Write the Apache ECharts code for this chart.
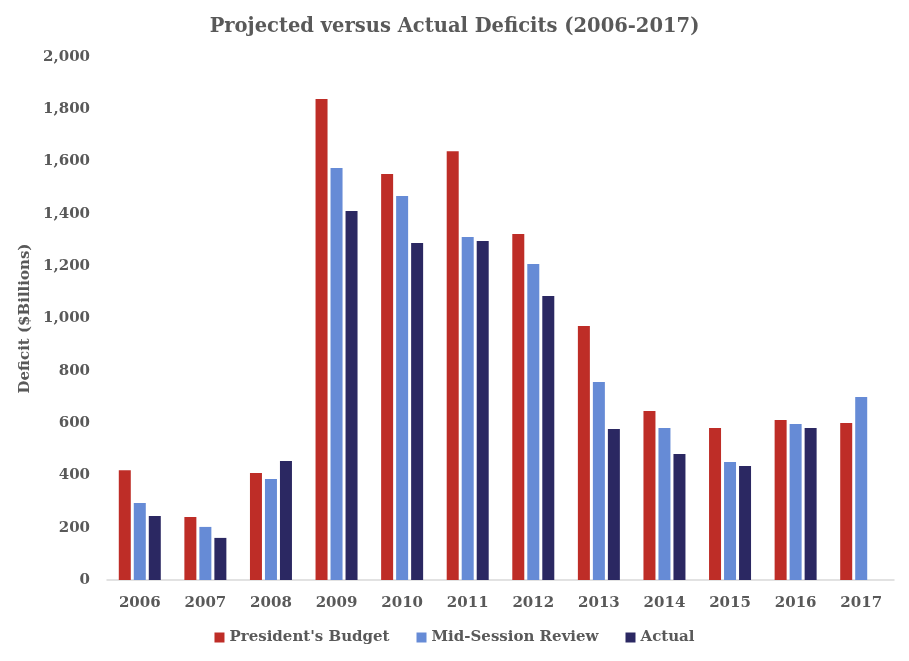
<!DOCTYPE html>
<html><head><meta charset="utf-8">
<script src="https://cdn.jsdelivr.net/npm/echarts@6/dist/echarts.min.js"></script>
<style>html,body{margin:0;padding:0;background:#fff}#c{width:909px;height:661px}</style>
</head><body><div id="c"></div>
<script>
const years = ['2006','2007','2008','2009','2010','2011','2012','2013','2014','2015','2016','2017'];
const presidentsBudget = [420, 241, 409, 1839, 1553, 1640, 1323, 971, 646, 581, 612, 600];
const midSessionReview = [294, 203, 386, 1576, 1468, 1312, 1208, 757, 581, 451, 597, 700];
const actual = [245, 161, 455, 1411, 1289, 1296, 1086, 577, 482, 436, 581, null];
const yTicks = [0, 200, 400, 600, 800, 1000, 1200, 1400, 1600, 1800, 2000];

const FONT = '"DejaVu Serif", serif';
const TXT = '#595959';
const chart = echarts.init(document.getElementById('c'));
const mk = (name, data, color) => ({
  name, type: 'bar', data, barWidth: 12, barGap: '25%',
  itemStyle: { color }
});
chart.setOption({
  animation: false,
  title: {
    text: 'Projected versus Actual Deficits (2006-2017)',
    left: 'center', top: 12,
    textStyle: { fontFamily: FONT, fontWeight: 'bold', fontSize: 19.5, color: TXT }
  },
  legend: {
    bottom: 11, left: 'center', itemWidth: 10, itemHeight: 10, itemGap: 27,
    icon: 'rect',
    textStyle: { fontFamily: FONT, fontWeight: 'bold', fontSize: 15, color: TXT }
  },
  grid: { left: 107, right: 15, top: 57, bottom: 81, containLabel: false },
  xAxis: {
    type: 'category', data: years,
    axisLine: { lineStyle: { color: '#d9d9d9', width: 1.5 } },
    axisTick: { show: false },
    axisLabel: { fontFamily: FONT, fontWeight: 'bold', fontSize: 15, color: TXT, margin: 16 }
  },
  yAxis: {
    type: 'value', min: yTicks[0], max: yTicks[yTicks.length - 1], interval: yTicks[1] - yTicks[0],
    name: 'Deficit ($Billions)', nameLocation: 'middle', nameGap: 66, nameRotate: 90,
    nameTextStyle: { fontFamily: FONT, fontWeight: 'bold', fontSize: 15, color: TXT },
    axisLine: { show: false }, axisTick: { show: false }, splitLine: { show: false },
    axisLabel: {
      fontFamily: FONT, fontWeight: 'bold', fontSize: 15, color: TXT, margin: 17,
      formatter: v => v.toLocaleString('en-US')
    }
  },
  series: [
    mk("President's Budget", presidentsBudget, '#BE2D27'),
    mk('Mid-Session Review', midSessionReview, '#668BD6'),
    mk('Actual', actual, '#2B2862')
  ]
});
</script></body></html>
